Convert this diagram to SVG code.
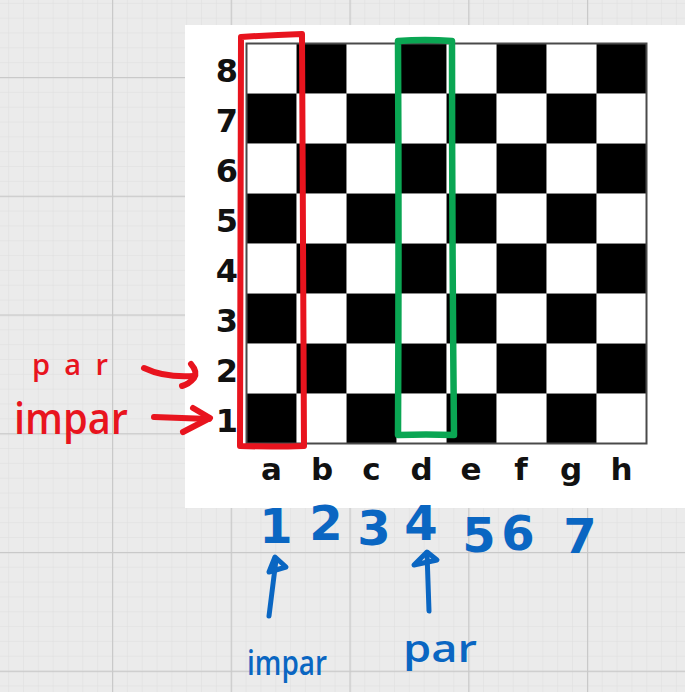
<svg xmlns="http://www.w3.org/2000/svg" width="685" height="692" viewBox="0 0 685 692">
  <defs>
    <pattern id="minor" patternUnits="userSpaceOnUse" x="112" y="77" width="14.84" height="14.84">
      <path d="M0,0 V14.84 M0,0 H14.84" stroke="#dedede" stroke-width="1" fill="none"/>
    </pattern>
    <pattern id="major" patternUnits="userSpaceOnUse" x="112" y="77" width="118.75" height="118.75">
      <path d="M0.5,0 V118.75 M0,0.5 H118.75" stroke="#c9c9c9" stroke-width="1.5" fill="none"/>
    </pattern>
    <style>
      .sq { fill: #000; }
      .gl { stroke: #8a8a8a; stroke-width: 1; fill: none; }
      .rank { font-family: "DejaVu Sans", sans-serif; font-weight: bold; font-size: 32px; fill: #111; text-anchor: middle; }
      .file { font-family: "DejaVu Sans", sans-serif; font-weight: bold; font-size: 31px; fill: #111; text-anchor: middle; }
      .red { fill: #e8141e; }
      .blue { fill: #0a66c2; }
      .hand { font-family: "Open Sans", "DejaVu Sans", sans-serif; font-weight: 600; }
      .num { font-family: "DejaVu Sans", sans-serif; font-weight: bold; font-size: 48px; text-anchor: middle; fill: #0a66c2; }
      .rline { stroke: #e8141e; stroke-width: 6; fill: none; stroke-linecap: round; stroke-linejoin: round; }
      .gline { stroke: #0aa653; stroke-width: 6.5; fill: none; stroke-linecap: round; stroke-linejoin: round; }
      .bline { stroke: #0a66c2; stroke-width: 5; fill: none; stroke-linecap: round; stroke-linejoin: round; }
    </style>
  </defs>

  <!-- background grid -->
  <rect x="0" y="0" width="685" height="692" fill="#ebebeb"/>
  <rect x="0" y="0" width="685" height="692" fill="url(#minor)"/>
  <rect x="0" y="0" width="685" height="692" fill="url(#major)"/>

  <!-- white card -->
  <rect x="185" y="25" width="500" height="483" fill="#ffffff"/>

  <!-- chessboard -->
  <g id="board">
    <rect x="246.5" y="43.5" width="400" height="400" fill="#fff"/>
    <g id="squares">
      <rect class="sq" x="296.5" y="43.5" width="50" height="50"/>
      <rect class="sq" x="396.5" y="43.5" width="50" height="50"/>
      <rect class="sq" x="496.5" y="43.5" width="50" height="50"/>
      <rect class="sq" x="596.5" y="43.5" width="50" height="50"/>
      <rect class="sq" x="246.5" y="93.5" width="50" height="50"/>
      <rect class="sq" x="346.5" y="93.5" width="50" height="50"/>
      <rect class="sq" x="446.5" y="93.5" width="50" height="50"/>
      <rect class="sq" x="546.5" y="93.5" width="50" height="50"/>
      <rect class="sq" x="296.5" y="143.5" width="50" height="50"/>
      <rect class="sq" x="396.5" y="143.5" width="50" height="50"/>
      <rect class="sq" x="496.5" y="143.5" width="50" height="50"/>
      <rect class="sq" x="596.5" y="143.5" width="50" height="50"/>
      <rect class="sq" x="246.5" y="193.5" width="50" height="50"/>
      <rect class="sq" x="346.5" y="193.5" width="50" height="50"/>
      <rect class="sq" x="446.5" y="193.5" width="50" height="50"/>
      <rect class="sq" x="546.5" y="193.5" width="50" height="50"/>
      <rect class="sq" x="296.5" y="243.5" width="50" height="50"/>
      <rect class="sq" x="396.5" y="243.5" width="50" height="50"/>
      <rect class="sq" x="496.5" y="243.5" width="50" height="50"/>
      <rect class="sq" x="596.5" y="243.5" width="50" height="50"/>
      <rect class="sq" x="246.5" y="293.5" width="50" height="50"/>
      <rect class="sq" x="346.5" y="293.5" width="50" height="50"/>
      <rect class="sq" x="446.5" y="293.5" width="50" height="50"/>
      <rect class="sq" x="546.5" y="293.5" width="50" height="50"/>
      <rect class="sq" x="296.5" y="343.5" width="50" height="50"/>
      <rect class="sq" x="396.5" y="343.5" width="50" height="50"/>
      <rect class="sq" x="496.5" y="343.5" width="50" height="50"/>
      <rect class="sq" x="596.5" y="343.5" width="50" height="50"/>
      <rect class="sq" x="246.5" y="393.5" width="50" height="50"/>
      <rect class="sq" x="346.5" y="393.5" width="50" height="50"/>
      <rect class="sq" x="446.5" y="393.5" width="50" height="50"/>
      <rect class="sq" x="546.5" y="393.5" width="50" height="50"/>
    </g>
    <path class="gl" d="M296.5,43.5V443.5 M346.5,43.5V443.5 M396.5,43.5V443.5 M446.5,43.5V443.5 M496.5,43.5V443.5 M546.5,43.5V443.5 M596.5,43.5V443.5 M246.5,93.5H646.5 M246.5,143.5H646.5 M246.5,193.5H646.5 M246.5,243.5H646.5 M246.5,293.5H646.5 M246.5,343.5H646.5 M246.5,393.5H646.5"/>
    <rect x="246.5" y="43.5" width="400" height="400" fill="none" stroke="#4a4a4a" stroke-width="2"/>
  </g>

  <g id="rank-labels">
    <text class="rank" x="227" y="81.5">8</text>
    <text class="rank" x="227" y="131.5">7</text>
    <text class="rank" x="227" y="181.5">6</text>
    <text class="rank" x="227" y="231.5">5</text>
    <text class="rank" x="227" y="281.5">4</text>
    <text class="rank" x="227" y="331.5">3</text>
    <text class="rank" x="227" y="381.5">2</text>
    <text class="rank" x="227" y="431.5">1</text>
  </g>

  <g id="file-labels">
    <text class="file" x="271.5" y="480">a</text>
    <text class="file" x="322" y="480">b</text>
    <text class="file" x="371.5" y="480">c</text>
    <text class="file" x="421.5" y="480">d</text>
    <text class="file" x="471" y="480">e</text>
    <text class="file" x="521" y="480">f</text>
    <text class="file" x="571" y="480">g</text>
    <text class="file" x="621.5" y="480">h</text>
  </g>

  <!-- highlight boxes -->
  <g id="red-box">
    <path class="rline" d="M241,37 Q272,35 302,34 Q303,240 304,446 Q272,447 240,446 Q240,240 241,37 Z"/>
  </g>
  <g id="green-box">
    <path class="gline" d="M398,41 Q425,39 452,41 Q452,238 454,435 Q426,434 398,435 Q399,238 398,41 Z"/>
  </g>

  <!-- red annotations -->
  <g id="red-par">
    <text class="hand red" x="32" y="375" font-size="29" textLength="76" lengthAdjust="spacing">par</text>
  </g>
  <g id="red-impar">
    <text class="hand red" x="14" y="434" font-size="44" textLength="114" lengthAdjust="spacingAndGlyphs">impar</text>
  </g>

  <!-- blue annotations -->
  <g id="blue-numbers">
    <text class="num" x="276" y="543">1</text>
    <text class="num" x="326" y="540">2</text>
    <text class="num" x="374" y="545">3</text>
    <text class="num" x="421" y="540">4</text>
    <text class="num" x="479" y="552">5</text>
    <text class="num" x="518" y="550">6</text>
    <text class="num" x="580" y="553">7</text>
  </g>
  <g id="blue-impar">
    <text class="hand blue" x="247" y="675" font-size="34" textLength="80" lengthAdjust="spacingAndGlyphs">impar</text>
  </g>
  <g id="blue-par">
    <text class="hand blue" x="403" y="662" font-size="38" textLength="74" lengthAdjust="spacingAndGlyphs">par</text>
  </g>

  <!-- arrows -->
  <g id="connectors">
    <path class="rline" d="M144,368 Q165,378 194,376"/>
    <path class="rline" d="M191,364 Q198,372 194,378 Q189,384 182,386"/>
    <path class="rline" d="M154,417 L209,419"/>
    <path class="rline" d="M193,408 L210,418 L183,432"/>
    <path class="bline" d="M276,560 L269,616"/>
    <path class="bline" d="M269,572 L275,557 L286,567 Z"/>
    <path class="bline" d="M427,553 L429,611"/>
    <path class="bline" d="M414,565 L427,552 L437,560 Z"/>
  </g>
</svg>
